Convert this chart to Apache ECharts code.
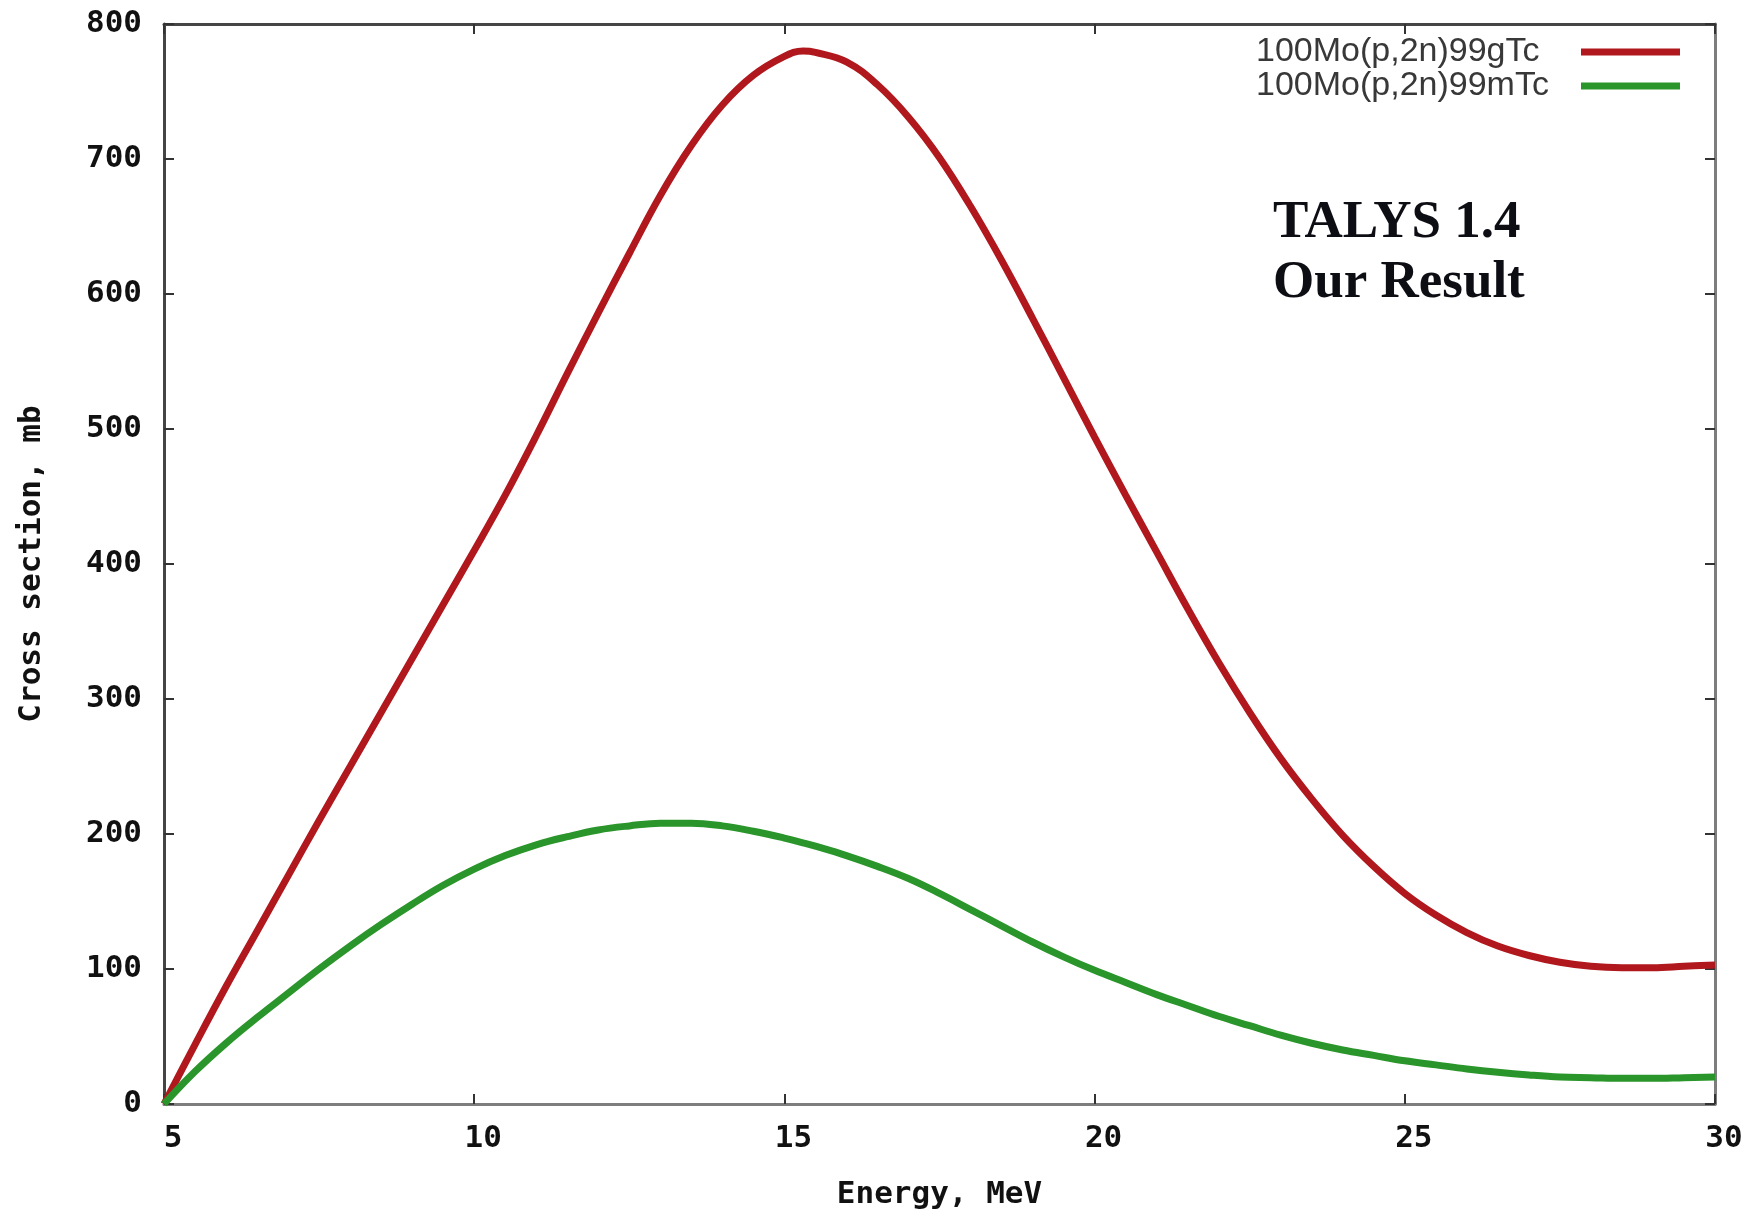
<!DOCTYPE html>
<html>
<head>
<meta charset="utf-8">
<title>100Mo(p,2n)99Tc cross sections</title>
<script src="https://cdn.jsdelivr.net/npm/echarts@6/dist/echarts.min.js"></script>
<style>
  html, body { margin: 0; padding: 0; background: #ffffff; }
  #chart { width: 1746px; height: 1209px; }
</style>
</head>
<body>
<div id="chart"></div>
<script>
// Proton energy grid, MeV
const energy = [5, 5.5, 6, 6.5, 7, 7.5, 8, 8.5, 9, 9.5,
  10, 10.5, 11, 11.5, 12, 12.5, 13, 13.5, 14, 14.5,
  15, 15.3, 15.5, 16, 16.5, 17, 17.5, 18, 18.5, 19, 19.5,
  20, 20.5, 21, 21.5, 22, 22.5, 23, 23.5, 24, 24.5,
  25, 25.5, 26, 26.5, 27, 27.5, 28, 28.5, 29, 29.5, 30];

// 100Mo(p,2n)99gTc cross section, mb
const gTc = [0, 44, 87, 128, 169, 210, 250, 290, 330, 370,
  410, 451, 495, 541, 586, 630, 673, 710, 740, 762,
  776, 780, 779, 772, 755, 731, 701, 665, 625, 582, 538,
  494, 451, 409, 367, 327, 290, 256, 226, 199, 176,
  156, 140, 127, 117, 110, 105, 102, 101, 101, 102, 103];

// 100Mo(p,2n)99mTc cross section, mb
const mTc = [0, 24, 45, 64, 82, 100, 117, 133, 148, 162,
  174, 184, 192, 198, 203, 206, 208, 208, 206, 202,
  197, 193.5, 191, 184, 176, 167, 156, 144, 132, 120, 109,
  99, 90, 81, 73, 65, 58, 51, 45, 40, 36,
  32, 29, 26, 23.5, 21.5, 20, 19.5, 19, 19, 19.5, 20];

const seriesNames = ['100Mo(p,2n)99gTc', '100Mo(p,2n)99mTc'];
const xTicks = { min: 5, max: 30, step: 5 };
const yTicks = { min: 0, max: 800, step: 100 };

const pairs = vals => energy.map((e, i) => [e, vals[i]]);

const monoFont = '"DejaVu Sans Mono", "Liberation Mono", monospace';
const darkEdge = '#454545';
const lightEdge = '#7d7d7d';

const chart = echarts.init(document.getElementById('chart'), null, { renderer: 'canvas' });

const tickStyle = { show: true, inside: true, length: 10, lineStyle: { color: '#333', width: 2 } };

chart.setOption({
  backgroundColor: '#ffffff',
  animation: false,
  grid: { left: 164, right: 31, top: 24, bottom: 105, containLabel: false, outerBoundsMode: 'none' },
  legend: {
    orient: 'vertical',
    left: 1251,
    top: 30,
    align: 'right',
    icon: 'rect',
    itemWidth: 99,
    itemHeight: 7,
    itemGap: 0,
    data: seriesNames,
    formatter: '{t|{name}}',
    textStyle: {
      rich: {
        t: {
          fontFamily: '"Liberation Sans", Arial, sans-serif',
          fontSize: 34,
          color: '#383838',
          width: 320,
          height: 36,
          align: 'left'
        }
      }
    }
  },
  xAxis: [{
    type: 'value',
    min: xTicks.min, max: xTicks.max, interval: xTicks.step,
    name: 'Energy, MeV',
    nameLocation: 'middle',
    nameGap: 75,
    nameTextStyle: { fontFamily: monoFont, fontWeight: 'bold', fontSize: 31, color: '#111' },
    axisLine: { show: true, onZero: false, lineStyle: { color: lightEdge, width: 3 } },
    axisTick: tickStyle,
    axisLabel: { fontFamily: monoFont, fontWeight: 'bold', fontSize: 31, color: '#111', margin: 19, padding: [0, 0, 0, 18] },
    splitLine: { show: false }
  }, {
    type: 'value', position: 'top',
    min: xTicks.min, max: xTicks.max, interval: xTicks.step,
    axisLine: { show: true, onZero: false, lineStyle: { color: darkEdge, width: 3 } },
    axisTick: tickStyle,
    axisLabel: { show: false },
    splitLine: { show: false }
  }],
  yAxis: [{
    type: 'value',
    min: yTicks.min, max: yTicks.max, interval: yTicks.step,
    name: 'Cross section, mb',
    nameLocation: 'middle',
    nameRotate: 90,
    nameGap: 117,
    nameTextStyle: { fontFamily: monoFont, fontWeight: 'bold', fontSize: 31, color: '#111' },
    axisLine: { show: true, onZero: false, lineStyle: { color: darkEdge, width: 3 } },
    axisTick: tickStyle,
    axisLabel: { fontFamily: monoFont, fontWeight: 'bold', fontSize: 31, color: '#111', margin: 22 },
    splitLine: { show: false }
  }, {
    type: 'value', position: 'right',
    min: yTicks.min, max: yTicks.max, interval: yTicks.step,
    axisLine: { show: true, onZero: false, lineStyle: { color: lightEdge, width: 3 } },
    axisTick: tickStyle,
    axisLabel: { show: false },
    splitLine: { show: false }
  }],
  graphic: [{
    type: 'text',
    left: 1273,
    top: 193,
    style: {
      text: 'TALYS 1.4\nOur Result',
      font: 'bold 53px "Liberation Serif", "DejaVu Serif", serif',
      lineHeight: 60,
      fill: '#0d0d14'
    }
  }],
  series: [{
    name: seriesNames[0],
    type: 'line',
    data: pairs(gTc),
    showSymbol: false,
    smooth: 0.4,
    lineStyle: { color: '#b0181e', width: 7 },
    itemStyle: { color: '#b0181e' },
    z: 3
  }, {
    name: seriesNames[1],
    type: 'line',
    data: pairs(mTc),
    showSymbol: false,
    smooth: 0.4,
    lineStyle: { color: '#2a952a', width: 7 },
    itemStyle: { color: '#2a952a' },
    z: 4
  }]
});
</script>
</body>
</html>
